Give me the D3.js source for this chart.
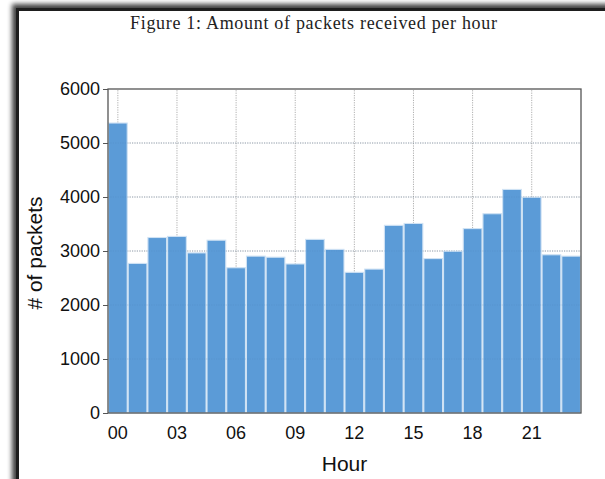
<!DOCTYPE html>
<html>
<head>
<meta charset="utf-8">
<script src="https://cdn.jsdelivr.net/npm/d3@7"></script>
<style>
  html, body { margin: 0; padding: 0; background: #fff; }
  svg { display: block; }
</style>
</head>
<body>
<script>
// Packets received per hour of the day
const hours = ["00","01","02","03","04","05","06","07","08","09","10","11",
               "12","13","14","15","16","17","18","19","20","21","22","23"];
const packets = [5370, 2770, 3250, 3270, 2965, 3200, 2690, 2905, 2885, 2760, 3215, 3030,
                 2605, 2665, 3475, 3510, 2860, 2995, 3415, 3690, 4140, 3995, 2930, 2905];
const xTickLabels = ["00","03","06","09","12","15","18","21"];
const yTickValues = [0, 1000, 2000, 3000, 4000, 5000, 6000];

const W = 605, H = 479;
const margin = { left: 108, right: 24, top: 89, bottom: 66 };

const svg = d3.select("body").append("svg")
  .attr("width", W).attr("height", H);

// Page frame with a soft shadow
const defs = svg.append("defs");
defs.append("filter").attr("id", "shadow")
  .attr("x", "-10%").attr("y", "-10%").attr("width", "120%").attr("height", "120%")
  .append("feGaussianBlur").attr("stdDeviation", 2.6);

svg.append("rect").attr("x", 0).attr("y", 0).attr("width", W).attr("height", H).attr("fill", "#fff");
svg.append("rect").attr("x", 12).attr("y", 4).attr("width", W + 40).attr("height", H + 40)
  .attr("fill", "#000").attr("opacity", 0.75).attr("filter", "url(#shadow)");
svg.append("rect").attr("x", 16).attr("y", 8).attr("width", W + 40).attr("height", H + 40)
  .attr("fill", "#1e1e1e");
svg.append("rect").attr("x", 19).attr("y", 11).attr("width", W + 40).attr("height", H + 40)
  .attr("fill", "#fff");

// Caption
svg.append("text")
  .attr("x", 130).attr("y", 29)
  .attr("font-family", "'Liberation Serif', 'DejaVu Serif', serif")
  .attr("font-size", 18)
  .attr("textLength", 367)
  .attr("lengthAdjust", "spacing")
  .attr("fill", "#222")
  .text("Figure 1: Amount of packets received per hour");

const x = d3.scaleBand()
  .domain(hours)
  .range([margin.left, W - margin.right])
  .padding(0);

const y = d3.scaleLinear()
  .domain([0, 6000])
  .range([H - margin.bottom, margin.top]);

const plot = svg.append("g");

// Dotted grid
const gridColor = "#9a9a9a";
plot.append("g").selectAll("line.gy")
  .data(yTickValues.filter(v => v > 0 && v < 6000))
  .join("line")
  .attr("x1", margin.left).attr("x2", W - margin.right)
  .attr("y1", d => y(d)).attr("y2", d => y(d))
  .attr("stroke", gridColor).attr("stroke-width", 0.8)
  .attr("stroke-dasharray", "1.2,1.2");
plot.append("g").selectAll("line.gx")
  .data(xTickLabels)
  .join("line")
  .attr("x1", d => x(d) + x.bandwidth() / 2).attr("x2", d => x(d) + x.bandwidth() / 2)
  .attr("y1", y(0)).attr("y2", y(6000))
  .attr("stroke", gridColor).attr("stroke-width", 0.8)
  .attr("stroke-dasharray", "1.2,1.2");

// Bars
plot.append("g").selectAll("rect")
  .data(packets)
  .join("rect")
  .attr("x", (d, i) => x(hours[i]) + 0.5)
  .attr("y", d => y(d))
  .attr("width", x.bandwidth() - 1)
  .attr("height", d => y(0) - y(d))
  .attr("fill", "#5b9bd7")
  .attr("stroke", "#cfe2f4")
  .attr("stroke-width", 1.1);

// Faint grid showing through the bars
plot.append("g").selectAll("line")
  .data(yTickValues.filter(v => v > 0 && v < 6000))
  .join("line")
  .attr("x1", margin.left).attr("x2", W - margin.right)
  .attr("y1", d => y(d)).attr("y2", d => y(d))
  .attr("stroke", "#4a7fb5").attr("stroke-width", 0.7).attr("opacity", 0.35)
  .attr("stroke-dasharray", "1.2,1.2");

// Plot frame
plot.append("rect")
  .attr("x", margin.left).attr("y", margin.top)
  .attr("width", W - margin.left - margin.right)
  .attr("height", H - margin.top - margin.bottom)
  .attr("fill", "none").attr("stroke", "#555").attr("stroke-width", 1.3);

// Axes
const yAxis = d3.axisLeft(y).tickValues(yTickValues).tickSize(5).tickPadding(3).tickFormat(d3.format("d"));
const gy = svg.append("g").attr("transform", `translate(${margin.left},0)`).call(yAxis);
gy.select(".domain").remove();
gy.selectAll(".tick line").attr("stroke", "#555");
gy.selectAll("text")
  .attr("font-family", "'Liberation Sans', Arial, sans-serif")
  .attr("font-size", 18).attr("fill", "#111");

const xAxis = d3.axisBottom(x).tickValues(xTickLabels).tickSize(0).tickPadding(13);
const gx = svg.append("g").attr("transform", `translate(0,${H - margin.bottom})`).call(xAxis);
gx.select(".domain").remove();
gx.selectAll("text")
  .attr("font-family", "'Liberation Sans', Arial, sans-serif")
  .attr("font-size", 18).attr("fill", "#111");

// Axis titles
svg.append("text")
  .attr("x", (margin.left + W - margin.right) / 2).attr("y", 471)
  .attr("text-anchor", "middle")
  .attr("font-family", "'Liberation Sans', Arial, sans-serif")
  .attr("font-size", 21).attr("fill", "#111")
  .text("Hour");

svg.append("text")
  .attr("transform", "translate(42,253) rotate(-90)")
  .attr("text-anchor", "middle")
  .attr("font-family", "'Liberation Sans', Arial, sans-serif")
  .attr("font-size", 21).attr("fill", "#111")
  .text("# of packets");
</script>
</body>
</html>
